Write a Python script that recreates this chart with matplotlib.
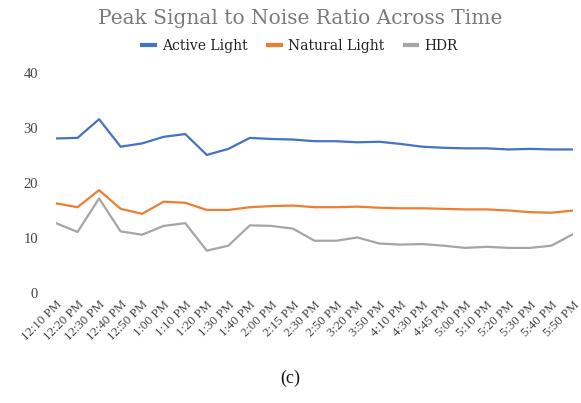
import matplotlib
matplotlib.use("Agg")
import matplotlib.pyplot as plt

times = ["12:10 PM", "12:20 PM", "12:30 PM", "12:40 PM", "12:50 PM", "1:00 PM", "1:10 PM",
         "1:20 PM", "1:30 PM", "1:40 PM", "2:00 PM", "2:15 PM", "2:30 PM", "2:50 PM",
         "3:20 PM", "3:50 PM", "4:10 PM", "4:30 PM", "4:45 PM", "5:00 PM", "5:10 PM",
         "5:20 PM", "5:30 PM", "5:40 PM", "5:50 PM"]
active_light = [28.1, 28.2, 31.6, 26.6, 27.2, 28.4, 28.9, 25.1, 26.2, 28.2, 28.0, 27.9, 27.6,
                27.6, 27.4, 27.5, 27.1, 26.6, 26.4, 26.3, 26.3, 26.1, 26.2, 26.1, 26.1]
natural_light = [16.3, 15.6, 18.7, 15.3, 14.4, 16.6, 16.4, 15.1, 15.1, 15.6, 15.8, 15.9, 15.6,
                 15.6, 15.7, 15.5, 15.4, 15.4, 15.3, 15.2, 15.2, 15.0, 14.7, 14.6, 15.0]
hdr = [12.7, 11.1, 17.2, 11.2, 10.6, 12.2, 12.7, 7.7, 8.6, 12.3, 12.2, 11.7, 9.5,
       9.5, 10.1, 9.0, 8.8, 8.9, 8.6, 8.2, 8.4, 8.2, 8.2, 8.6, 10.7]
series_names = ["Active Light", "Natural Light", "HDR"]
colors = ["#4472C4", "#ED7D31", "#A5A5A5"]
yticks = [0, 10, 20, 30, 40]

fig = plt.figure(figsize=(5.81, 4.03), dpi=100)
ax = fig.add_axes([56/581, 110/403, (573-56)/581, (330-110)/403])
x = list(range(len(times)))
for vals, name, c in zip([active_light, natural_light, hdr], series_names, colors):
    ax.plot(x, vals, color=c, lw=1.6, label=name, solid_joinstyle="round")
ax.set_xlim(0, len(times) - 1)
ax.set_ylim(0, 40)
ax.set_yticks(yticks)
ax.set_yticklabels([str(v) for v in yticks], family="Liberation Serif", fontsize=10.5, color="#444444")
ax.set_xticks(x)
ax.set_xticklabels(times, rotation=45, ha="right", rotation_mode="anchor",
                   family="Liberation Serif", fontsize=9.3, color="#444444")
ax.tick_params(axis="both", length=0)
ax.tick_params(axis="y", pad=13)
ax.tick_params(axis="x", pad=4)
for s in ax.spines.values():
    s.set_visible(False)

cx = 300 / 581
fig.text(cx, 1 - 18/403, "Peak Signal to Noise Ratio Across Time", ha="center", va="center",
         family="DejaVu Serif", fontsize=14.5, color="#7a7a7a")
leg = fig.legend(loc="center", bbox_to_anchor=(cx, 1 - 46/403), ncol=3, frameon=False,
                 prop={"family": "DejaVu Serif", "size": 10}, handlelength=0.9,
                 handletextpad=0.5, columnspacing=1.5)
for h in leg.get_lines():
    h.set_linewidth(3)
for t in leg.get_texts():
    t.set_color("#222222")
fig.text(0.5, 1 - 378/403, "(c)", ha="center", va="center", family="Liberation Serif",
         fontsize=13, color="#111111")
fig.savefig("out.png", dpi=100)
